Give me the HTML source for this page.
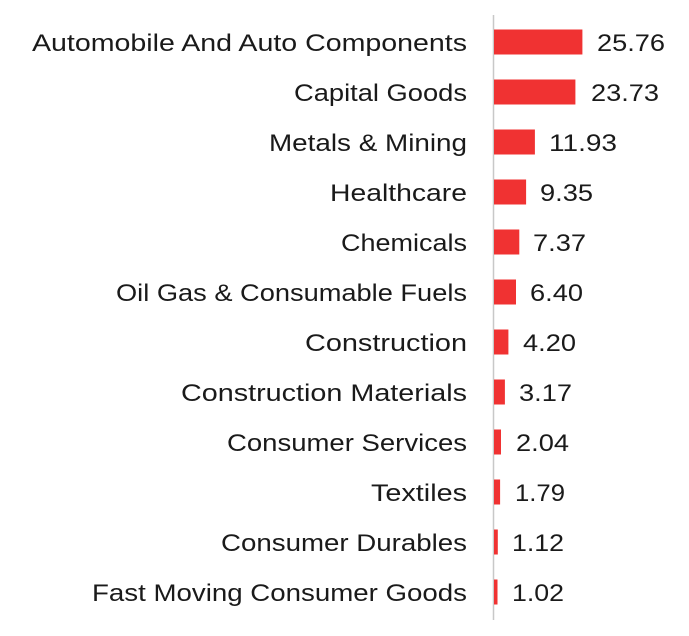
<!DOCTYPE html>
<html><head><style>body{margin:0;background:#fff}</style></head><body>
<svg width="689" height="631" xmlns="http://www.w3.org/2000/svg" font-family="Liberation Sans, sans-serif" font-size="24" fill="#1a1a1a">
<line x1="493.5" y1="15" x2="493.5" y2="620" stroke="#c8c8c8" stroke-width="1.5"/>
<g fill="#f03232">
<rect x="494" y="29.5" width="88.4" height="25"/>
<rect x="494" y="79.5" width="81.4" height="25"/>
<rect x="494" y="129.5" width="40.9" height="25"/>
<rect x="494" y="179.5" width="32.1" height="25"/>
<rect x="494" y="229.5" width="25.3" height="25"/>
<rect x="494" y="279.5" width="22" height="25"/>
<rect x="494" y="329.5" width="14.4" height="25"/>
<rect x="494" y="379.5" width="10.9" height="25"/>
<rect x="494" y="429.5" width="7" height="25"/>
<rect x="494" y="479.5" width="6.1" height="25"/>
<rect x="494" y="529.5" width="3.8" height="25"/>
<rect x="494" y="579.5" width="3.5" height="25"/>
</g>
<g text-anchor="end" lengthAdjust="spacingAndGlyphs">
<text x="467" y="51" textLength="435" lengthAdjust="spacingAndGlyphs">Automobile And Auto Components</text>
<text x="467" y="101" textLength="173" lengthAdjust="spacingAndGlyphs">Capital Goods</text>
<text x="467" y="151" textLength="198" lengthAdjust="spacingAndGlyphs">Metals &amp; Mining</text>
<text x="467" y="201" textLength="137" lengthAdjust="spacingAndGlyphs">Healthcare</text>
<text x="467" y="251" textLength="126" lengthAdjust="spacingAndGlyphs">Chemicals</text>
<text x="467" y="301" textLength="351" lengthAdjust="spacingAndGlyphs">Oil Gas &amp; Consumable Fuels</text>
<text x="467" y="351" textLength="162" lengthAdjust="spacingAndGlyphs">Construction</text>
<text x="467" y="401" textLength="286" lengthAdjust="spacingAndGlyphs">Construction Materials</text>
<text x="467" y="451" textLength="240" lengthAdjust="spacingAndGlyphs">Consumer Services</text>
<text x="467" y="501" textLength="96" lengthAdjust="spacingAndGlyphs">Textiles</text>
<text x="467" y="551" textLength="246" lengthAdjust="spacingAndGlyphs">Consumer Durables</text>
<text x="467" y="601" textLength="375" lengthAdjust="spacingAndGlyphs">Fast Moving Consumer Goods</text>
</g>
<g>
<text x="597" y="51" textLength="68" lengthAdjust="spacingAndGlyphs">25.76</text>
<text x="591" y="101" textLength="68" lengthAdjust="spacingAndGlyphs">23.73</text>
<text x="549" y="151" textLength="68" lengthAdjust="spacingAndGlyphs">11.93</text>
<text x="540" y="201" textLength="53" lengthAdjust="spacingAndGlyphs">9.35</text>
<text x="533" y="251" textLength="53" lengthAdjust="spacingAndGlyphs">7.37</text>
<text x="530" y="301" textLength="53" lengthAdjust="spacingAndGlyphs">6.40</text>
<text x="523" y="351" textLength="53" lengthAdjust="spacingAndGlyphs">4.20</text>
<text x="519" y="401" textLength="53" lengthAdjust="spacingAndGlyphs">3.17</text>
<text x="516" y="451" textLength="53" lengthAdjust="spacingAndGlyphs">2.04</text>
<text x="515" y="501" textLength="50" lengthAdjust="spacingAndGlyphs">1.79</text>
<text x="512" y="551" textLength="52" lengthAdjust="spacingAndGlyphs">1.12</text>
<text x="512" y="601" textLength="52" lengthAdjust="spacingAndGlyphs">1.02</text>
</g>
</svg>
</body></html>
